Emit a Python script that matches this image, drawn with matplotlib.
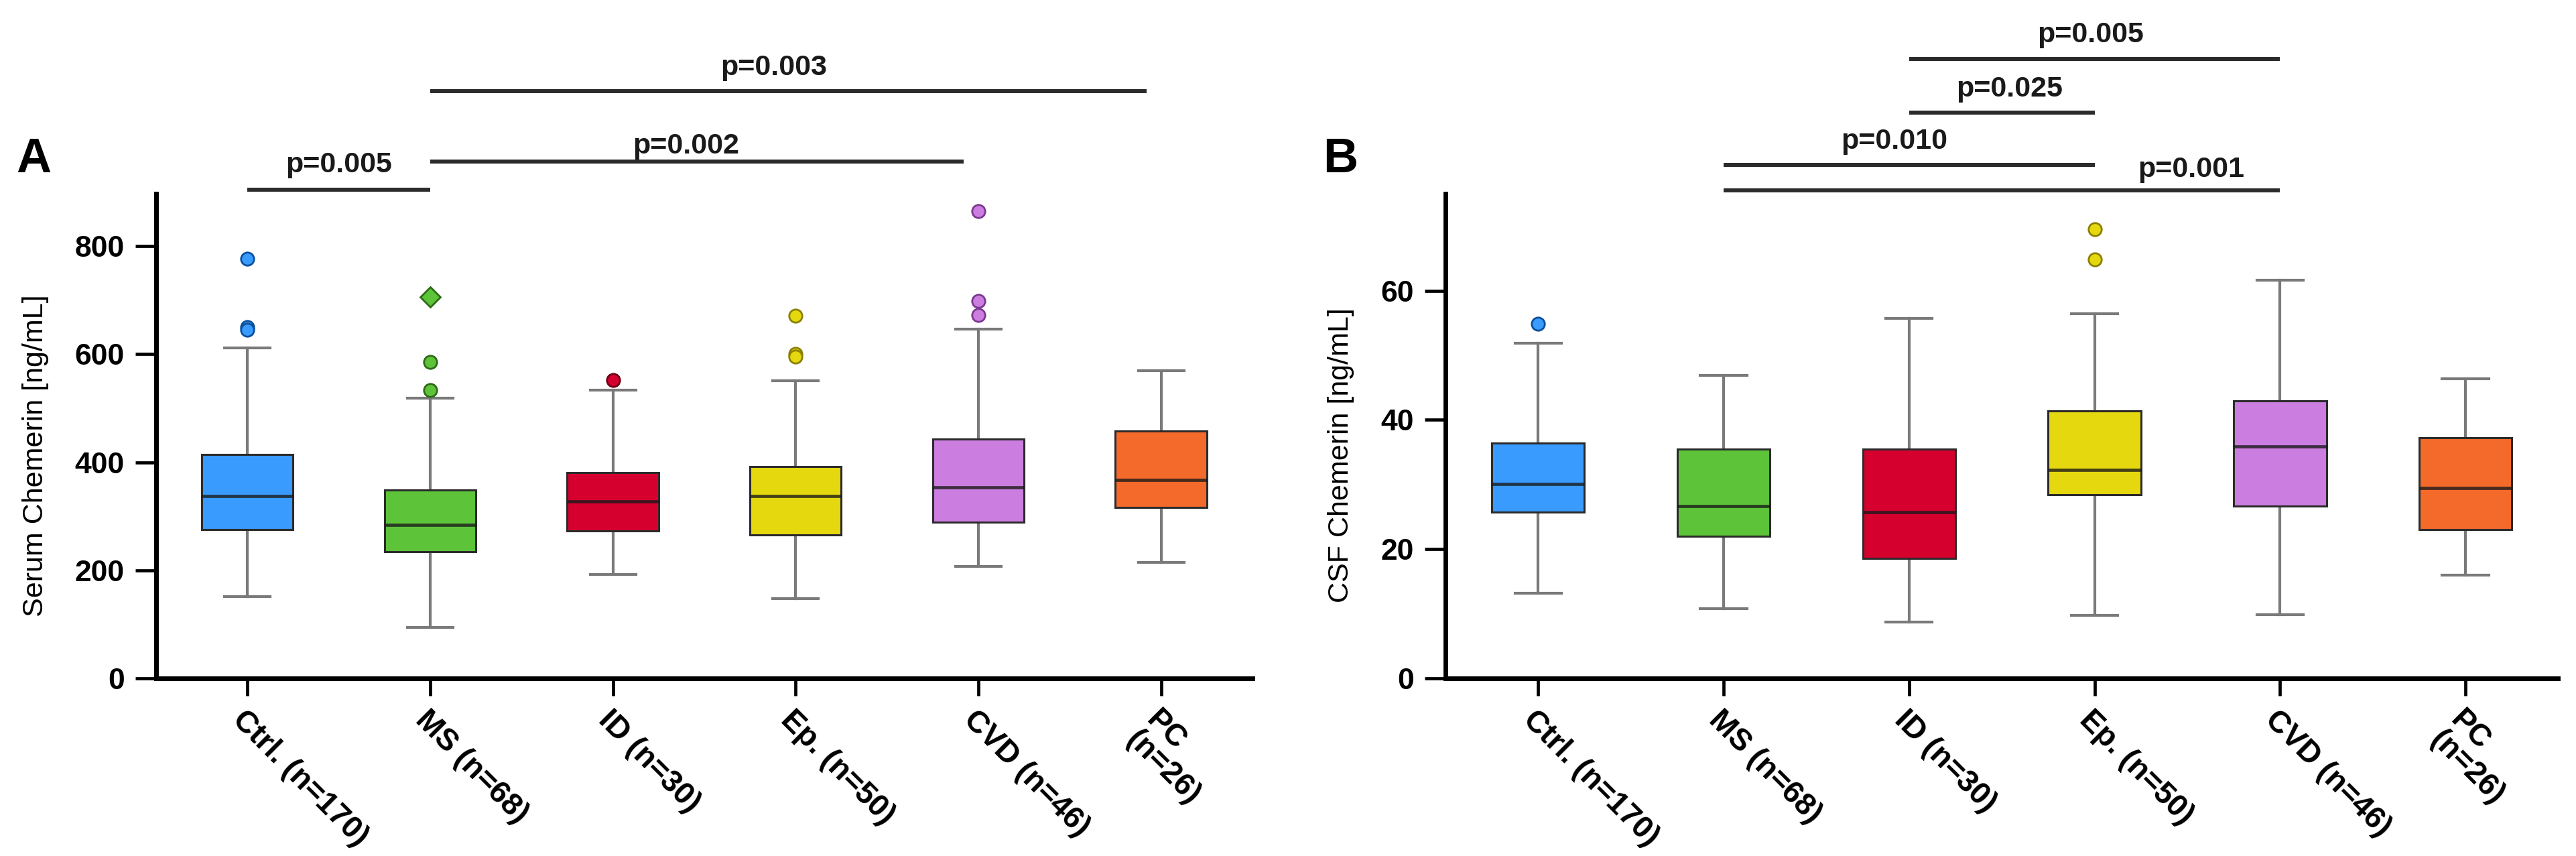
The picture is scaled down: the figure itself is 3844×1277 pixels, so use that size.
import matplotlib
matplotlib.use("Agg")
import matplotlib.pyplot as plt

plt.rcParams['font.family'] = ['Liberation Sans', 'DejaVu Sans']

# === data ===
groups = ["Ctrl. (n=170)", "MS (n=68)", "ID (n=30)", "Ep. (n=50)", "CVD (n=46)", "PC\n(n=26)"]
colors = ["#3A9BFF", "#5DC43A", "#D5002E", "#E6D80F", "#CB7EE0", "#F46A2A"]
edge_out = ["#0b4f99", "#2d6b17", "#6e0016", "#8a7f00", "#7a3a8f", "#8a3510"]

# panel A: serum chemerin [ng/mL]
serum_whislo = [152, 94, 192, 148, 207, 215]
serum_q1 = [276, 234, 273, 266, 289, 317]
serum_med = [337, 284, 327, 337, 354, 367]
serum_q3 = [415, 349, 381, 392, 443, 458]
serum_whishi = [612, 519, 534, 551, 647, 570]
serum_out = [[777, 650, 645], [706, 585, 534], [552], [671, 600, 595], [865, 698, 673], []]
serum_out_marker = [["o", "o", "o"], ["D", "o", "o"], ["o"], ["o", "o", "o"], ["o", "o", "o"], []]
serum_sig = [(0, 1.0, 904, 0.5, 937, "p=0.005"),
             (1.0, 3.92, 956, 2.40, 972, "p=0.002"),
             (1.0, 4.92, 1087, 2.88, 1116, "p=0.003")]

# panel B: CSF chemerin [ng/mL]
csf_whislo = [13.2, 10.8, 8.7, 9.8, 9.9, 16.0]
csf_q1 = [25.7, 22.0, 18.6, 28.4, 26.7, 23.0]
csf_med = [30.1, 26.7, 25.7, 32.3, 35.9, 29.5]
csf_q3 = [36.4, 35.5, 35.5, 41.4, 42.9, 37.2]
csf_whishi = [51.9, 46.9, 55.7, 56.4, 61.6, 46.4]
csf_out = [[54.9], [], [], [69.5, 64.8], [], []]
csf_out_marker = [["o"], [], [], ["o", "o"], [], []]
csf_sig = [(1, 4, 75.5, 3.52, 77.6, "p=0.001"),
           (1, 3, 79.5, 1.92, 81.9, "p=0.010"),
           (2, 3, 87.6, 2.54, 90.0, "p=0.025"),
           (2, 4, 95.8, 2.98, 98.4, "p=0.005")]

fig = plt.figure(figsize=(38.44, 12.77), dpi=100)


def panel(rect, whislo, q1, med, q3, whishi, outs, markers, sig, ylim, yticks, ylabel, ylab_x):
    ax = fig.add_axes(rect)
    stats = []
    for i in range(len(groups)):
        stats.append(dict(whislo=whislo[i], q1=q1[i], med=med[i], q3=q3[i],
                          whishi=whishi[i], fliers=[]))
    pos = list(range(len(groups)))
    bp = ax.bxp(stats, positions=pos, widths=0.50, patch_artist=True, showfliers=False,
                boxprops=dict(edgecolor="#2b2b2b", linewidth=2.2),
                whiskerprops=dict(color="#7a7a7a", linewidth=3.0),
                capprops=dict(color="#7a7a7a", linewidth=3.0),
                medianprops=dict(color="#1a1a1a", linewidth=3.4, alpha=0.8),
                capwidths=0.25)
    for patch, c in zip(bp["boxes"], colors):
        patch.set_facecolor(c)
        patch.set_zorder(3)
    for m in bp["medians"]:
        m.set_zorder(4)
    for i in pos:
        for v, mk in zip(outs[i], markers[i]):
            ax.plot(i, v, marker=mk, markersize=14 if mk == "o" else 15, color=colors[i],
                    markeredgecolor=edge_out[i], markeredgewidth=2, zorder=5, clip_on=False)

    # significance brackets
    for x1, x2, y, tx, ty, txt in sig:
        ax.plot([x1, x2], [y, y], color="#2b2b2b", linewidth=4.3, clip_on=False,
                solid_capstyle="butt")
        ax.text(tx, ty, txt, ha="center", va="baseline", fontsize=31, fontweight="bold",
                color="#1a1a1a", clip_on=False)

    ax.set_xlim(-0.5, 5.5)
    ax.set_ylim(*ylim)
    ax.set_yticks(yticks)
    ax.set_xticks(pos)
    ax.set_xticklabels(groups, rotation=-45, ha="left", va="top", rotation_mode="anchor",
                       fontsize=33, fontweight="bold", linespacing=0.95)
    for lab in ax.get_yticklabels():
        lab.set_fontsize(32)
        lab.set_fontweight("bold")
    ax.spines["top"].set_visible(False)
    ax.spines["right"].set_visible(False)
    ax.spines["left"].set_linewidth(5)
    ax.spines["bottom"].set_linewidth(5)
    ax.tick_params(axis="y", direction="out", length=22, width=3.4, pad=12)
    ax.tick_params(axis="x", direction="out", length=19, width=3.4, pad=10)
    ax.set_ylabel(ylabel, fontsize=31)
    ax.yaxis.set_label_coords(ylab_x, 0.46)
    return ax


axA = panel([0.0606, 0.2075, 0.4256, 0.5662], serum_whislo, serum_q1, serum_med, serum_q3,
            serum_whishi, serum_out, serum_out_marker, serum_sig, (0, 897),
            [0, 200, 400, 600, 800], "Serum Chemerin [ng/mL]", -0.098)
axB = panel([0.5611, 0.2075, 0.4320, 0.5662], csf_whislo, csf_q1, csf_med, csf_q3,
            csf_whishi, csf_out, csf_out_marker, csf_sig, (0, 75),
            [0, 20, 40, 60], "CSF Chemerin [ng/mL]", -0.082)

fig.text(0.0062, 0.799, "A", fontsize=52, fontweight="bold", ha="left", va="baseline")
fig.text(0.5135, 0.799, "B", fontsize=52, fontweight="bold", ha="left", va="baseline")

fig.savefig("out.png", dpi=100, facecolor="white")
